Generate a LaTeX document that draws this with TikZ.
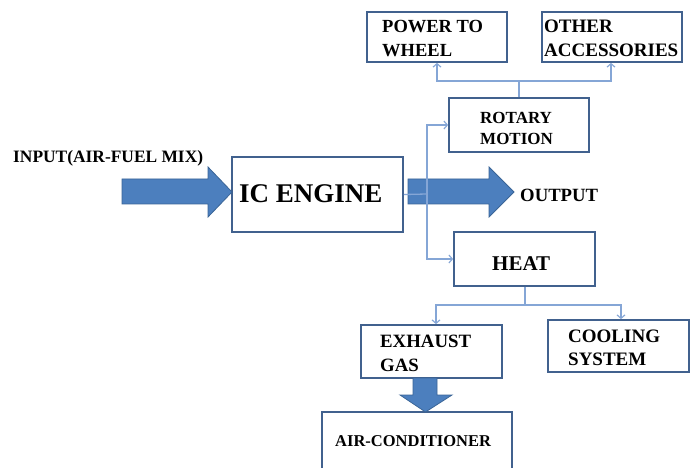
\documentclass[tikz,border=0pt]{standalone}
\usepackage{fontspec}
\setmainfont{Liberation Serif}
\usetikzlibrary{arrows.meta}
\definecolor{boxline}{HTML}{41618E}
\definecolor{connline}{HTML}{85A6D6}
\definecolor{fatfill}{HTML}{4C7FBE}
\definecolor{fatline}{HTML}{3A6597}
\tikzset{
  blockbox/.style={draw=boxline, line width=1.8pt, fill=white, rectangle, inner sep=0pt, anchor=center},
  conn/.style={draw=connline, line width=1.3pt},
  connarrow/.style={conn, -{Straight Barb[length=3.5pt,width=8pt,line width=1.1pt]}},
  fatarrow/.style={fill=fatfill, draw=fatline, line width=0.8pt, line join=miter},
  lbl/.style={anchor=base west, inner sep=0pt, font=\bfseries, text=black},
}
\newcommand{\fsz}[1]{\fontsize{#1}{#1}\selectfont}
\begin{document}
\begin{tikzpicture}[x=1pt,y=-1pt]
\clip (0,0) rectangle (694,468);
\fill[white] (0,0) rectangle (694,468);

% boxes
\node[blockbox, minimum width=140pt, minimum height=50pt] (pw) at (437,37) {};
\node[blockbox, minimum width=140pt, minimum height=50pt] (oa) at (612,37) {};
\node[blockbox, minimum width=140pt, minimum height=54pt] (rot) at (519,125) {};
\node[blockbox, minimum width=171pt, minimum height=75pt] (ic) at (317.5,194.5) {};
\node[blockbox, minimum width=141pt, minimum height=54pt] (heat) at (524.5,259) {};
\node[blockbox, minimum width=141pt, minimum height=53pt] (ex) at (431.5,351.5) {};
\node[blockbox, minimum width=141pt, minimum height=52pt] (cool) at (618.5,346) {};
\node[blockbox, minimum width=190pt, minimum height=78pt] (ac) at (417,451) {};

% fat arrows
\path[fatarrow] (122,179) -- (208,179) -- (208,167) -- (232,192) -- (208,217) -- (208,204) -- (122,204) -- cycle;
\path[fatarrow] (408,179) -- (489,179) -- (489,167) -- (514,192) -- (489,217) -- (489,204) -- (408,204) -- cycle;
\path[fatarrow] (413,378) -- (437,378) -- (437,395) -- (452,395) -- (425.5,412) -- (400,395) -- (413,395) -- cycle;

% connectors
\coordinate (j) at (427,194);
\coordinate (rj) at (519,81);
\coordinate (hj) at (525,305);
\draw[conn] (ic.east) -- (j);
\draw[connarrow] (j) |- (rot.west);
\draw[connarrow] (j) |- (heat.west);
\draw[conn] (rot.north) -- (rj);
\draw[connarrow] (rj) -| (pw.south);
\draw[connarrow] (rj) -| ([xshift=-1pt]oa.south);
\draw[conn] ([xshift=0.5pt]heat.south) -- (hj);
\draw[connarrow] (hj) -| ([xshift=4.5pt]ex.north);
\draw[connarrow] (hj) -| ([xshift=2.5pt]cool.north);

% labels
\node[lbl, font=\bfseries\fsz{17.4}] (tin) at (13,163) {INPUT(AIR-FUEL MIX)};
\node[lbl, font=\bfseries\fsz{27}] (tic) at (239,203) {IC ENGINE};
\node[lbl, font=\bfseries\fsz{18.7}] (tout) at (520,201) {OUTPUT};
\node[lbl, font=\bfseries\fsz{18.5}] (tpw1) at (382,33) {POWER TO};
\node[lbl, font=\bfseries\fsz{18.5}] (tpw2) at (382,57) {WHEEL};
\node[lbl, font=\bfseries\fsz{19}] (toa1) at (544,33) {OTHER};
\node[lbl, font=\bfseries\fsz{19}] (toa2) at (544,57) {ACCESSORIES};
\node[lbl, font=\bfseries\fsz{17}] (trot1) at (480,124) {ROTARY};
\node[lbl, font=\bfseries\fsz{17}] (trot2) at (480,145) {MOTION};
\node[lbl, font=\bfseries\fsz{21}] (theat) at (492,270) {HEAT};
\node[lbl, font=\bfseries\fsz{18.8}] (tex1) at (380,347) {EXHAUST};
\node[lbl, font=\bfseries\fsz{18.8}] (tex2) at (380,371) {GAS};
\node[lbl, font=\bfseries\fsz{19}] (tco1) at (568,342) {COOLING};
\node[lbl, font=\bfseries\fsz{19}] (tco2) at (568,365) {SYSTEM};
\node[lbl, font=\bfseries\fsz{16.5}] (tac) at (335,446) {AIR-CONDITIONER};
\end{tikzpicture}
\end{document}
